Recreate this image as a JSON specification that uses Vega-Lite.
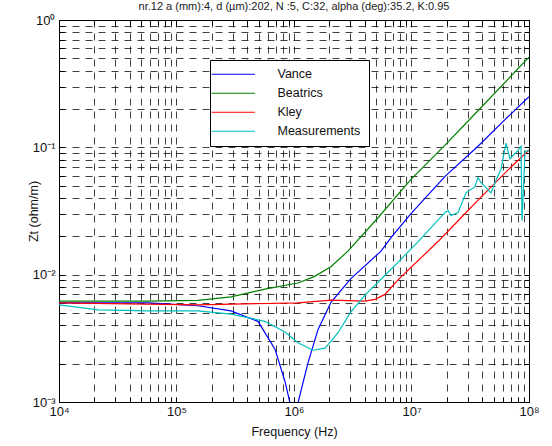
{
  "$schema": "https://vega.github.io/schema/vega-lite/v6.json",
  "width": 470,
  "height": 382,
  "autosize": "none",
  "padding": {"left": 59, "top": 20, "right": 23, "bottom": 44},
  "background": "white",
  "config": {
    "font": "Liberation Sans",
    "view": {"stroke": "black", "strokeWidth": 1}
  },
  "title": {
    "text": "nr.12 a (mm):4, d (µm):202, N :5, C:32, alpha (deg):35.2, K:0.95",
    "fontSize": 11,
    "fontWeight": "normal",
    "color": "#222",
    "offset": 2,
    "anchor": "middle"
  },
  "data": {
    "values": [
      {"s": "Vance", "f": 10000, "z": 0.006},
      {"s": "Vance", "f": 57100, "z": 0.006},
      {"s": "Vance", "f": 152000, "z": 0.0057},
      {"s": "Vance", "f": 291000, "z": 0.0052},
      {"s": "Vance", "f": 494000, "z": 0.0043},
      {"s": "Vance", "f": 689000, "z": 0.0026},
      {"s": "Vance", "f": 838000, "z": 0.00145},
      {"s": "Vance", "f": 925000, "z": 0.00098},
      {"s": "Vance", "f": 1000000, "z": 0.000755},
      {"s": "Vance", "f": 1080000, "z": 0.00098},
      {"s": "Vance", "f": 1310000, "z": 0.002},
      {"s": "Vance", "f": 1600000, "z": 0.0037},
      {"s": "Vance", "f": 2070000, "z": 0.0061},
      {"s": "Vance", "f": 3050000, "z": 0.0093},
      {"s": "Vance", "f": 5500000, "z": 0.0153},
      {"s": "Vance", "f": 6690000, "z": 0.0195},
      {"s": "Vance", "f": 9900000, "z": 0.0302},
      {"s": "Vance", "f": 19300000, "z": 0.0592},
      {"s": "Vance", "f": 36800000, "z": 0.102},
      {"s": "Vance", "f": 63700000, "z": 0.168},
      {"s": "Vance", "f": 100000000, "z": 0.25},
      {"s": "Beatrics", "f": 10000, "z": 0.0062},
      {"s": "Beatrics", "f": 57100, "z": 0.0062},
      {"s": "Beatrics", "f": 152000, "z": 0.00628},
      {"s": "Beatrics", "f": 291000, "z": 0.0067},
      {"s": "Beatrics", "f": 566000, "z": 0.0077},
      {"s": "Beatrics", "f": 1080000, "z": 0.0086},
      {"s": "Beatrics", "f": 1500000, "z": 0.0097},
      {"s": "Beatrics", "f": 2070000, "z": 0.0116},
      {"s": "Beatrics", "f": 2880000, "z": 0.0153},
      {"s": "Beatrics", "f": 5190000, "z": 0.028},
      {"s": "Beatrics", "f": 9900000, "z": 0.056},
      {"s": "Beatrics", "f": 19300000, "z": 0.104},
      {"s": "Beatrics", "f": 32100000, "z": 0.17},
      {"s": "Beatrics", "f": 100000000, "z": 0.51},
      {"s": "Kley", "f": 10000, "z": 0.006},
      {"s": "Kley", "f": 152000, "z": 0.0058},
      {"s": "Kley", "f": 1080000, "z": 0.006},
      {"s": "Kley", "f": 2070000, "z": 0.0063},
      {"s": "Kley", "f": 4020000, "z": 0.0062},
      {"s": "Kley", "f": 4890000, "z": 0.0064},
      {"s": "Kley", "f": 5950000, "z": 0.007},
      {"s": "Kley", "f": 7670000, "z": 0.0091},
      {"s": "Kley", "f": 16800000, "z": 0.0182},
      {"s": "Kley", "f": 26400000, "z": 0.028},
      {"s": "Kley", "f": 39000000, "z": 0.0407},
      {"s": "Kley", "f": 70300000, "z": 0.0701},
      {"s": "Kley", "f": 100000000, "z": 0.095},
      {"s": "Measurements", "f": 10000, "z": 0.0058},
      {"s": "Measurements", "f": 21500, "z": 0.0053},
      {"s": "Measurements", "f": 57100, "z": 0.0052},
      {"s": "Measurements", "f": 152000, "z": 0.0052},
      {"s": "Measurements", "f": 291000, "z": 0.0049},
      {"s": "Measurements", "f": 566000, "z": 0.0043},
      {"s": "Measurements", "f": 838000, "z": 0.00355},
      {"s": "Measurements", "f": 1080000, "z": 0.00292},
      {"s": "Measurements", "f": 1450000, "z": 0.00255},
      {"s": "Measurements", "f": 1840000, "z": 0.00265},
      {"s": "Measurements", "f": 2370000, "z": 0.0035},
      {"s": "Measurements", "f": 3050000, "z": 0.0051},
      {"s": "Measurements", "f": 4020000, "z": 0.0069},
      {"s": "Measurements", "f": 5950000, "z": 0.0099},
      {"s": "Measurements", "f": 7670000, "z": 0.0125},
      {"s": "Measurements", "f": 11400000, "z": 0.0182},
      {"s": "Measurements", "f": 19300000, "z": 0.0308},
      {"s": "Measurements", "f": 20500000, "z": 0.0319},
      {"s": "Measurements", "f": 21700000, "z": 0.0291},
      {"s": "Measurements", "f": 24900000, "z": 0.0308},
      {"s": "Measurements", "f": 29100000, "z": 0.0439},
      {"s": "Measurements", "f": 34700000, "z": 0.0491},
      {"s": "Measurements", "f": 36800000, "z": 0.0581},
      {"s": "Measurements", "f": 39000000, "z": 0.053},
      {"s": "Measurements", "f": 42200000, "z": 0.0491},
      {"s": "Measurements", "f": 47500000, "z": 0.0439},
      {"s": "Measurements", "f": 51400000, "z": 0.053},
      {"s": "Measurements", "f": 57800000, "z": 0.0676},
      {"s": "Measurements", "f": 63700000, "z": 0.108},
      {"s": "Measurements", "f": 68900000, "z": 0.0814},
      {"s": "Measurements", "f": 73100000, "z": 0.0861},
      {"s": "Measurements", "f": 80600000, "z": 0.0946},
      {"s": "Measurements", "f": 85500000, "z": 0.102},
      {"s": "Measurements", "f": 87200000, "z": 0.0265},
      {"s": "Measurements", "f": 92500000, "z": 0.0928},
      {"s": "Measurements", "f": 100000000, "z": 0.0946}
    ]
  },
  "layer": [
    {
      "mark": {"type": "line", "strokeWidth": 1.2, "clip": true},
      "encoding": {
        "x": {
          "field": "f",
          "type": "quantitative",
          "scale": {"type": "log", "domain": [10000, 100000000], "nice": false},
          "axis": {
            "values": [10000, 20000, 30000, 40000, 50000, 60000, 70000, 80000, 90000, 100000, 200000, 300000, 400000, 500000, 600000, 700000, 800000, 900000, 1000000, 2000000, 3000000, 4000000, 5000000, 6000000, 7000000, 8000000, 9000000, 10000000, 20000000, 30000000, 40000000, 50000000, 60000000, 70000000, 80000000, 90000000, 100000000],
            "labelExpr": "datum.value == 10000 ? '10⁴' : datum.value == 100000 ? '10⁵' : datum.value == 1000000 ? '10⁶' : datum.value == 10000000 ? '10⁷' : datum.value == 100000000 ? '10⁸' : ''",
            "labelOverlap": false,
            "labelFlush": false,
            "labelFontSize": 13,
            "labelColor": "#111",
            "labelPadding": 8,
            "grid": true,
            "gridDash": [7, 6],
            "gridColor": "#000",
            "gridOpacity": 0.75,
            "domain": false,
            "tickSize": -5,
            "tickColor": "#000",
            "title": "Frequency (Hz)",
            "titleFontSize": 12.5,
            "titleFontWeight": "normal",
            "titleColor": "#111",
            "titleX": 235,
            "titleY": 29,
            "titleBaseline": "middle"
          }
        },
        "y": {
          "field": "z",
          "type": "quantitative",
          "scale": {"type": "log", "domain": [0.001, 1], "nice": false},
          "axis": {
            "values": [0.001, 0.002, 0.003, 0.004, 0.005, 0.006, 0.007, 0.008, 0.009, 0.01, 0.02, 0.03, 0.04, 0.05, 0.06, 0.07, 0.08, 0.09, 0.1, 0.2, 0.3, 0.4, 0.5, 0.6, 0.7, 0.8, 0.9, 1],
            "labelExpr": "datum.value == 1 ? '10⁰' : datum.value == 0.1 ? '10⁻¹' : datum.value == 0.01 ? '10⁻²' : datum.value == 0.001 ? '10⁻³' : ''",
            "labelOverlap": false,
            "labelFlush": false,
            "labelFontSize": 13,
            "labelColor": "#111",
            "labelPadding": 9,
            "grid": true,
            "gridDash": [7, 6],
            "gridColor": "#000",
            "gridOpacity": 0.75,
            "domain": false,
            "tickSize": -5,
            "tickColor": "#000",
            "title": "Zt (ohm/m)",
            "titleFontSize": 12.5,
            "titleFontWeight": "normal",
            "titleColor": "#111",
            "titleX": -26,
            "titleY": 191,
            "titleBaseline": "middle"
          }
        },
        "color": {
          "field": "s",
          "type": "nominal",
          "scale": {
            "domain": ["Vance", "Beatrics", "Kley", "Measurements"],
            "range": ["#0000ff", "#008000", "#ff0000", "#00bfbf"]
          },
          "legend": {
            "title": null,
            "orient": "none",
            "legendX": 151,
            "legendY": 40,
            "fillColor": "white",
            "strokeColor": "black",
            "padding": 8,
            "symbolType": "M-5,0H5",
            "symbolSize": 75,
            "symbolOffset": 9,
            "symbolStrokeWidth": 1,
            "labelFontSize": 12.5,
            "labelColor": "#111",
            "labelOffset": 38,
            "rowPadding": 6
          }
        }
      }
    },
    {
      "transform": [{"filter": "false"}],
      "mark": {"type": "line", "opacity": 0, "strokeOpacity": 0, "strokeWidth": 0},
      "encoding": {
        "x": {
          "field": "f",
          "type": "quantitative",
          "scale": {"type": "log", "domain": [10000, 100000000], "nice": false},
          "axis": {
            "orient": "top",
            "values": [10000, 20000, 30000, 40000, 50000, 60000, 70000, 80000, 90000, 100000, 200000, 300000, 400000, 500000, 600000, 700000, 800000, 900000, 1000000, 2000000, 3000000, 4000000, 5000000, 6000000, 7000000, 8000000, 9000000, 10000000, 20000000, 30000000, 40000000, 50000000, 60000000, 70000000, 80000000, 90000000, 100000000],
            "labels": false,
            "grid": false,
            "domain": false,
            "tickSize": -5,
            "tickColor": "#000",
            "title": null
          }
        },
        "y": {
          "field": "z",
          "type": "quantitative",
          "scale": {"type": "log", "domain": [0.001, 1], "nice": false},
          "axis": {
            "orient": "right",
            "values": [0.001, 0.002, 0.003, 0.004, 0.005, 0.006, 0.007, 0.008, 0.009, 0.01, 0.02, 0.03, 0.04, 0.05, 0.06, 0.07, 0.08, 0.09, 0.1, 0.2, 0.3, 0.4, 0.5, 0.6, 0.7, 0.8, 0.9, 1],
            "labels": false,
            "grid": false,
            "domain": false,
            "tickSize": -5,
            "tickColor": "#000",
            "title": null
          }
        },
        "detail": {"field": "s"}
      }
    }
  ],
  "resolve": {"axis": {"x": "independent", "y": "independent"}}
}
